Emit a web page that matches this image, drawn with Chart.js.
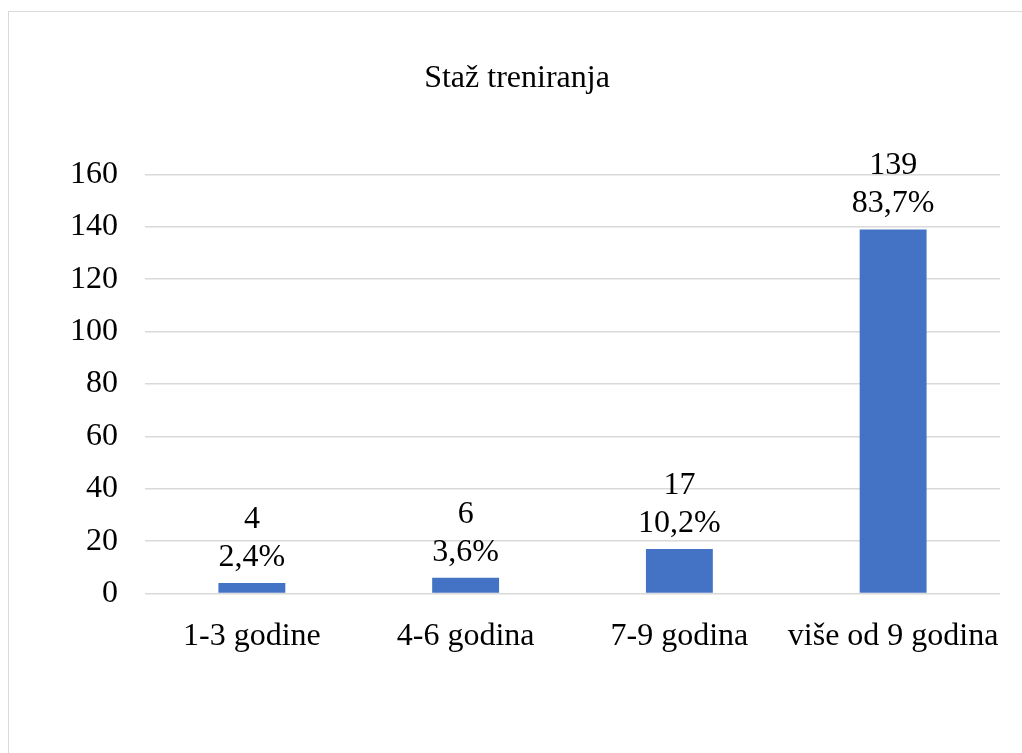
<!DOCTYPE html>
<html>
<head>
<meta charset="utf-8">
<script src="https://cdn.jsdelivr.net/npm/chart.js@4.4.0/dist/chart.umd.min.js"></script>
<style>
  body { margin: 0; background: #fff; }
  #frame { position: absolute; left: 8px; top: 11px; width: 1100px; height: 800px; border: 1.5px solid #d9d9d9; }
  #wrap { position: absolute; left: 0; top: 0; width: 1022px; height: 753px; }
</style>
</head>
<body>
<div id="frame"></div>
<div id="wrap"><canvas id="chart"></canvas></div>
<script>
var kategorije = ["1-3 godine", "4-6 godina", "7-9 godina", "više od 9 godina"];
var broj = [4, 6, 17, 139];
var postotak = [2.4, 3.6, 10.2, 83.7];
var yTicks = [0, 20, 40, 60, 80, 100, 120, 140, 160];

var FONT = "'Liberation Serif', 'Times New Roman', serif";

// oznake iznad stupaca: broj pa postotak
var oznake = {
  id: 'oznake',
  afterDatasetsDraw: function (chart) {
    var ctx = chart.ctx;
    var meta = chart.getDatasetMeta(0);
    ctx.save();
    ctx.fillStyle = '#000';
    ctx.font = '32px ' + FONT;
    ctx.textAlign = 'center';
    ctx.textBaseline = 'alphabetic';
    meta.data.forEach(function (bar, i) {
      var pct = postotak[i].toFixed(1).replace('.', ',') + '%';
      ctx.fillText(pct, bar.x, bar.y - 17);
      ctx.fillText(String(broj[i]), bar.x, bar.y - 55);
    });
    ctx.restore();
  }
};

new Chart(document.getElementById('chart'), {
  type: 'bar',
  data: {
    labels: kategorije,
    datasets: [{
      data: broj,
      backgroundColor: '#4472C4',
      categoryPercentage: 1,
      barPercentage: 0.313
    }]
  },
  options: {
    responsive: true,
    maintainAspectRatio: false,
    animation: false,
    layout: { padding: { left: 34, right: 22, top: 0, bottom: 0 } },
    plugins: {
      legend: { display: false },
      tooltip: { enabled: false },
      title: {
        display: true,
        text: 'Staž treniranja',
        color: '#000',
        font: { family: FONT, size: 32, weight: 'normal' },
        padding: { top: 59, bottom: 77 }
      }
    },
    scales: {
      x: {
        grid: { display: false },
        border: { display: false },
        ticks: { color: '#000', font: { family: FONT, size: 32 }, padding: 16, maxRotation: 0 },
        afterFit: function (s) { s.height = 159.5; }
      },
      y: {
        min: 0,
        max: 160,
        afterBuildTicks: function (s) { s.ticks = yTicks.map(function (v) { return { value: v }; }); },
        grid: { color: '#d9d9d9', lineWidth: 1.5, drawTicks: false },
        border: { display: false },
        ticks: { color: '#000', font: { family: FONT, size: 32 }, padding: 27 },
        afterFit: function (s) { s.width = 111; }
      }
    }
  },
  plugins: [oznake]
});
</script>
</body>
</html>
